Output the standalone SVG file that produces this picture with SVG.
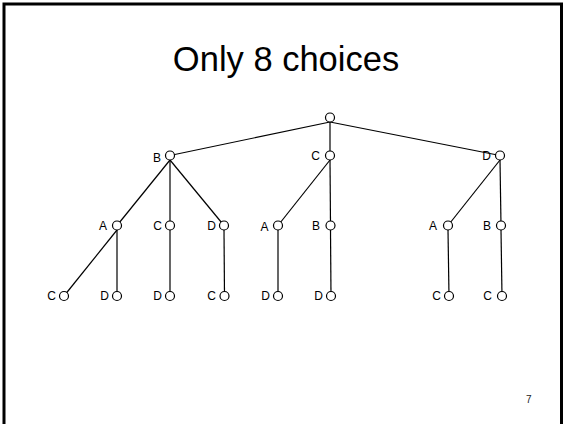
<svg xmlns="http://www.w3.org/2000/svg" width="563" height="424" viewBox="0 0 563 424">
<style>
.frame{fill:none;stroke:#000;stroke-width:3}
.edge{stroke:#000;stroke-width:1.2;fill:none}
.node circle{fill:#fff;stroke:#000;stroke-width:1.2}
.lbl{font-family:"Liberation Sans",Arial,sans-serif;font-size:12px;fill:#000;text-anchor:end}
.title{font-family:"Liberation Sans",Arial,sans-serif;font-size:34.5px;fill:#000;text-anchor:middle}
.pg{font-family:"Liberation Sans",Arial,sans-serif;font-size:10px;fill:#222}
</style>
<rect width="563" height="424" fill="#fff"/>
<path class="frame" d="M4,424 V4 H561.5 V424"/>
<text class="title" x="286" y="70.5">Only 8 choices</text>
<g id="connectors">
<line class="edge" x1="330" y1="122" x2="170" y2="155.5"/>
<line class="edge" x1="330" y1="122" x2="330" y2="155.5"/>
<line class="edge" x1="330" y1="122" x2="500" y2="155.5"/>
<line class="edge" x1="170" y1="160" x2="117" y2="225.5"/>
<line class="edge" x1="170" y1="160" x2="170" y2="225.5"/>
<line class="edge" x1="170" y1="160" x2="224" y2="225.5"/>
<line class="edge" x1="330" y1="160" x2="278" y2="225.5"/>
<line class="edge" x1="330" y1="160" x2="330.5" y2="225.5"/>
<line class="edge" x1="500" y1="160" x2="448" y2="225.5"/>
<line class="edge" x1="500" y1="160" x2="501" y2="225.5"/>
<line class="edge" x1="117" y1="230" x2="64" y2="296"/>
<line class="edge" x1="117" y1="230" x2="117" y2="296"/>
<line class="edge" x1="170" y1="230" x2="170" y2="296"/>
<line class="edge" x1="224" y1="230" x2="224.5" y2="296"/>
<line class="edge" x1="278" y1="230" x2="278" y2="296"/>
<line class="edge" x1="330.5" y1="230" x2="331" y2="296"/>
<line class="edge" x1="448" y1="230" x2="449" y2="296"/>
<line class="edge" x1="501" y1="230" x2="502" y2="296"/>
</g>
<g id="root" class="node"><circle cx="330" cy="117.5" r="4.5"/></g>
<g id="n_B" class="node"><circle cx="170" cy="155.5" r="4.5"/><text class="lbl" x="161" y="161.5">B</text></g>
<g id="n_C" class="node"><circle cx="330" cy="155.5" r="4.5"/><text class="lbl" x="320" y="159.5">C</text></g>
<g id="n_D" class="node"><circle cx="500" cy="155.5" r="4.5"/><text class="lbl" x="491" y="160">D</text></g>
<g id="n_BA" class="node"><circle cx="117" cy="225.5" r="4.5"/><text class="lbl" x="107" y="230">A</text></g>
<g id="n_BC" class="node"><circle cx="170" cy="225.5" r="4.5"/><text class="lbl" x="162" y="230">C</text></g>
<g id="n_BD" class="node"><circle cx="224" cy="225.5" r="4.5"/><text class="lbl" x="216" y="230">D</text></g>
<g id="n_CA" class="node"><circle cx="278" cy="225.5" r="4.5"/><text class="lbl" x="268.5" y="231">A</text></g>
<g id="n_CB" class="node"><circle cx="330.5" cy="225.5" r="4.5"/><text class="lbl" x="320" y="229.5">B</text></g>
<g id="n_DA" class="node"><circle cx="448" cy="225.5" r="4.5"/><text class="lbl" x="437" y="230">A</text></g>
<g id="n_DB" class="node"><circle cx="501" cy="225.5" r="4.5"/><text class="lbl" x="491" y="230">B</text></g>
<g id="n_BAC" class="node"><circle cx="64" cy="296" r="4.5"/><text class="lbl" x="56" y="299.5">C</text></g>
<g id="n_BAD" class="node"><circle cx="117" cy="296" r="4.5"/><text class="lbl" x="109" y="299.5">D</text></g>
<g id="n_BCD" class="node"><circle cx="170" cy="296" r="4.5"/><text class="lbl" x="162" y="299.5">D</text></g>
<g id="n_BDC" class="node"><circle cx="224.5" cy="296" r="4.5"/><text class="lbl" x="216" y="299.5">C</text></g>
<g id="n_CAD" class="node"><circle cx="278" cy="296" r="4.5"/><text class="lbl" x="270" y="299.5">D</text></g>
<g id="n_CBD" class="node"><circle cx="331" cy="296" r="4.5"/><text class="lbl" x="323" y="299.5">D</text></g>
<g id="n_DAC" class="node"><circle cx="449" cy="296" r="4.5"/><text class="lbl" x="441" y="299.5">C</text></g>
<g id="n_DBC" class="node"><circle cx="502" cy="296" r="4.5"/><text class="lbl" x="492" y="299.5">C</text></g>
<text class="pg" x="526" y="402.5">7</text>
</svg>
